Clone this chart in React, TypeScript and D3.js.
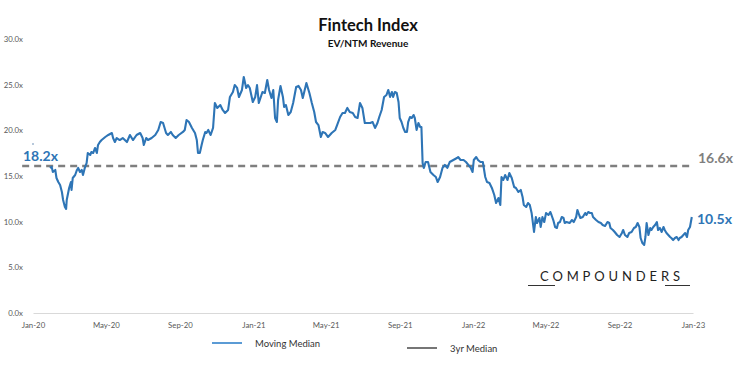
import React, { useEffect, useRef } from 'react';
import * as d3 from 'd3';

// chart data
const startDate = new Date(2020, 0, 1);
const endDate = new Date(2023, 0, 1);
const medianStart = new Date(2019, 11, 14);

const firstPoint: [number, number] = [0, 18.5];

// [days since Jan 1 2020, EV/NTM multiple]
const movingMedian: [number, number][] = [
  [28, 15.88], [31, 16.0], [33, 15.44], [37, 15.66], [39, 14.78], [42, 14.34], [45, 14.02], [48, 13.25],
  [50, 12.37], [53, 11.61], [55, 11.39], [56, 12.37], [60, 13.69], [63, 14.34], [64, 13.47], [66, 14.78],
  [70, 15.11], [73, 15.66], [75, 15.88], [78, 15.44], [81, 15.66], [83, 15.11], [86, 15.88], [89, 16.42],
  [91, 17.52], [95, 17.3], [97, 17.63], [100, 17.52], [103, 18.07], [106, 17.52], [108, 18.4], [111, 18.72],
  [114, 18.94], [120, 19.27], [125, 19.49], [131, 19.71], [133, 19.16], [136, 18.72], [139, 19.16], [144, 18.94],
  [149, 19.16], [156, 18.72], [161, 19.49], [166, 18.94], [172, 19.49], [178, 19.71], [182, 19.16], [184, 18.4],
  [188, 19.16], [191, 18.94], [197, 19.16], [203, 19.49], [208, 20.04], [212, 20.91], [216, 20.8], [221, 19.71],
  [224, 19.49], [229, 19.82], [232, 19.49], [237, 19.16], [242, 19.49], [249, 19.82], [252, 20.04], [255, 21.13],
  [259, 20.91], [264, 20.26], [269, 19.71], [272, 18.94], [274, 17.52], [277, 17.52], [280, 18.4], [282, 18.94],
  [286, 19.82], [288, 19.71], [291, 20.04], [295, 19.49], [299, 20.26], [302, 22.99], [306, 22.45], [311, 22.77],
  [315, 22.23], [319, 21.9], [324, 22.23], [327, 23.65], [332, 24.2], [335, 24.96], [339, 24.64], [342, 23.65],
  [347, 24.42], [350, 25.84], [354, 24.64], [357, 24.96], [360, 24.64], [365, 23.1], [369, 23.65], [372, 24.96],
  [375, 22.99], [381, 24.2], [385, 24.09], [389, 25.51], [392, 24.42], [396, 23.54], [399, 24.42], [402, 21.35],
  [405, 20.91], [407, 23.32], [411, 24.86], [415, 23.65], [417, 22.56], [420, 22.77], [424, 21.68], [428, 22.01],
  [432, 22.99], [437, 24.75], [441, 24.86], [445, 24.42], [448, 23.54], [452, 24.64], [454, 25.18], [459, 24.09],
  [463, 22.99], [467, 22.01], [470, 20.91], [474, 20.58], [478, 19.27], [481, 19.82], [485, 19.71], [490, 19.27],
  [496, 19.71], [502, 20.04], [505, 20.58], [510, 21.46], [514, 21.9], [518, 21.9], [522, 22.45], [526, 22.01],
  [531, 21.9], [535, 21.46], [539, 21.35], [543, 22.99], [547, 22.45], [551, 20.8], [555, 20.8], [560, 20.8],
  [564, 20.91], [568, 20.26], [572, 20.8], [575, 21.46], [579, 22.23], [583, 23.65], [587, 23.87], [590, 24.42],
  [593, 23.65], [596, 24.2], [598, 23.65], [601, 24.2], [604, 24.09], [607, 23.1], [609, 21.35], [612, 20.91],
  [615, 20.26], [618, 19.82], [621, 19.82], [623, 20.91], [626, 21.46], [629, 21.35], [632, 21.68], [634, 21.35],
  [637, 20.04], [640, 20.8], [643, 20.37], [645, 20.37], [647, 16.42], [649, 15.88], [652, 16.53], [656, 16.53],
  [660, 15.44], [665, 15.11], [669, 14.89], [672, 14.34], [676, 14.89], [680, 15.88], [684, 16.21], [688, 15.88],
  [692, 16.53], [698, 16.75], [704, 16.97], [706, 17.08], [710, 16.75], [715, 16.75], [719, 16.53], [723, 16.21],
  [727, 15.88], [730, 15.44], [732, 16.75], [736, 17.08], [739, 16.75], [743, 16.53], [747, 16.53], [751, 14.89],
  [754, 14.34], [758, 14.23], [762, 13.69], [766, 12.92], [769, 12.04], [773, 12.59], [776, 11.83], [778, 14.89],
  [781, 14.56], [784, 15.11], [788, 14.56], [791, 15.33], [795, 14.78], [799, 13.8], [802, 13.69], [806, 13.25],
  [810, 13.47], [813, 12.7], [815, 11.83], [819, 11.61], [822, 12.04], [825, 11.83], [828, 10.95], [832, 8.87],
  [835, 10.51], [837, 9.85], [841, 10.4], [843, 9.42], [846, 10.51], [849, 9.96], [852, 10.95], [856, 10.73],
  [859, 11.06], [861, 10.73], [864, 10.18], [867, 9.42], [870, 9.31], [872, 9.85], [875, 9.96], [878, 10.51],
  [881, 10.4], [883, 9.85], [886, 9.96], [891, 9.85], [895, 10.18], [898, 9.96], [902, 10.51], [904, 11.28],
  [907, 10.73], [909, 10.4], [913, 10.51], [917, 10.95], [919, 10.73], [922, 11.06], [925, 10.95], [928, 10.95],
  [930, 10.51], [935, 10.18], [939, 9.96], [943, 9.85], [946, 9.64], [950, 9.53], [954, 9.96], [957, 9.85],
  [959, 9.31], [963, 9.09], [966, 8.87], [970, 8.54], [974, 8.32], [978, 8.76], [980, 9.09], [983, 8.54],
  [987, 8.32], [990, 8.76], [994, 8.87], [998, 9.31], [1001, 9.42], [1004, 9.85], [1007, 9.42], [1009, 8.21],
  [1012, 7.66], [1015, 7.45], [1017, 8.32], [1019, 9.85], [1022, 8.54], [1025, 9.31], [1027, 9.09], [1030, 9.42],
  [1033, 9.64], [1036, 9.96], [1038, 9.09], [1041, 9.31], [1044, 8.87], [1047, 9.42], [1049, 9.09], [1052, 8.76],
  [1055, 8.54], [1058, 8.32], [1060, 8.21], [1063, 7.99], [1066, 8.21], [1069, 8.32], [1072, 7.99], [1074, 8.21],
  [1077, 8.32], [1080, 8.54], [1083, 8.76], [1086, 8.32], [1088, 9.09], [1091, 9.42], [1094, 10.51],
];

const medianValue = 16.1;
const yTicks = [0, 5, 10, 15, 20, 25, 30];
const labels = { start: '18.2x', median: '16.6x', end: '10.5x' };
const legendItems = ['Moving Median', '3yr Median'];

const BLUE = '#2e75b6';
const GREY = '#7f7f7f';
const FONT = 'Lato, "Open Sans", sans-serif';

export default function App() {
  const ref = useRef<SVGSVGElement>(null);

  useEffect(() => {
    const width = 748, height = 365;
    const svg = d3.select(ref.current);
    svg.selectAll('*').remove();
    svg.attr('width', width).attr('height', height).style('font-family', FONT);

    const x = d3.scaleTime().domain([startDate, endDate]).range([33, 693]);
    const y = d3.scaleLinear().domain([0, 30]).range([313, 39]);
    const toDate = (d: number) => d3.timeDay.offset(startDate, d);

    // titles
    svg.append('text').attr('x', 368).attr('y', 31).attr('text-anchor', 'middle')
      .attr('font-size', 16.5).attr('font-weight', 700).attr('fill', '#111').text('Fintech Index');
    svg.append('text').attr('x', 368).attr('y', 47).attr('text-anchor', 'middle')
      .attr('font-size', 10).attr('font-weight', 700).attr('fill', '#111').text('EV/NTM Revenue');

    // y axis labels (no axis line)
    svg.append('g').selectAll('text').data(yTicks).join('text')
      .attr('x', 23).attr('y', d => y(d) + 3)
      .attr('text-anchor', 'end').attr('font-size', 7.8).attr('fill', '#595959')
      .text(d => d3.format('.1f')(d) + 'x');

    // x axis
    const xAxis = d3.axisBottom(x)
      .ticks(d3.timeMonth.every(4))
      .tickFormat(d => d3.timeFormat('%b-%y')(d as Date))
      .tickSize(0).tickPadding(9);
    const gx = svg.append('g').attr('transform', `translate(0, ${y(0)})`).call(xAxis);
    gx.select('.domain').attr('stroke', '#d9d9d9');
    gx.selectAll('text').attr('font-size', 7.8).attr('fill', '#595959').attr('font-family', FONT);

    // median dashed line
    svg.append('line')
      .attr('x1', x(medianStart)).attr('x2', x(endDate) - 1)
      .attr('y1', y(medianValue)).attr('y2', y(medianValue))
      .attr('stroke', GREY).attr('stroke-width', 2.5).attr('stroke-dasharray', '7 5');

    // stray first point
    svg.append('circle').attr('cx', x(toDate(firstPoint[0]))).attr('cy', y(firstPoint[1]))
      .attr('r', 1).attr('fill', '#9fb6cf');

    // moving median line
    const line = d3.line<[number, number]>()
      .x(d => x(toDate(d[0])))
      .y(d => y(d[1]));
    svg.append('path').attr('d', line(movingMedian))
      .attr('fill', 'none').attr('stroke', BLUE).attr('stroke-width', 2.1)
      .attr('stroke-linejoin', 'round');

    // value labels
    svg.append('text').attr('x', 23).attr('y', 161).attr('font-size', 14).attr('font-weight', 700)
      .attr('fill', BLUE).text(labels.start);
    svg.append('text').attr('x', 698).attr('y', 163).attr('font-size', 14).attr('font-weight', 700)
      .attr('fill', GREY).text(labels.median);
    svg.append('text').attr('x', 697).attr('y', 224).attr('font-size', 14).attr('font-weight', 700)
      .attr('fill', BLUE).text(labels.end);

    // watermark
    svg.append('text').attr('x', 540).attr('y', 281).attr('font-size', 13).attr('fill', '#222')
      .attr('textLength', 140).attr('lengthAdjust', 'spacing').text('COMPOUNDERS');
    svg.append('line').attr('x1', 528).attr('x2', 555).attr('y1', 285.5).attr('y2', 285.5)
      .attr('stroke', '#333').attr('stroke-width', 1);
    svg.append('line').attr('x1', 665).attr('x2', 690).attr('y1', 285.5).attr('y2', 285.5)
      .attr('stroke', '#333').attr('stroke-width', 1);

    // legend
    const legend = [
      { label: legendItems[0], color: '#5b9bd5', x: 212, y: 343 },
      { label: legendItems[1], color: '#767676', x: 407, y: 348 },
    ];
    const lg = svg.append('g').selectAll('g').data(legend).join('g');
    lg.append('line').attr('x1', d => d.x).attr('x2', d => d.x + 30)
      .attr('y1', d => d.y).attr('y2', d => d.y)
      .attr('stroke', d => d.color).attr('stroke-width', 2);
    lg.append('text').attr('x', d => d.x + 43).attr('y', d => d.y + 3.5)
      .attr('font-size', 9.5).attr('fill', '#333').text(d => d.label);
  }, []);

  return <svg ref={ref} style={{ position: 'absolute', left: 0, top: 0 }} />;
}
